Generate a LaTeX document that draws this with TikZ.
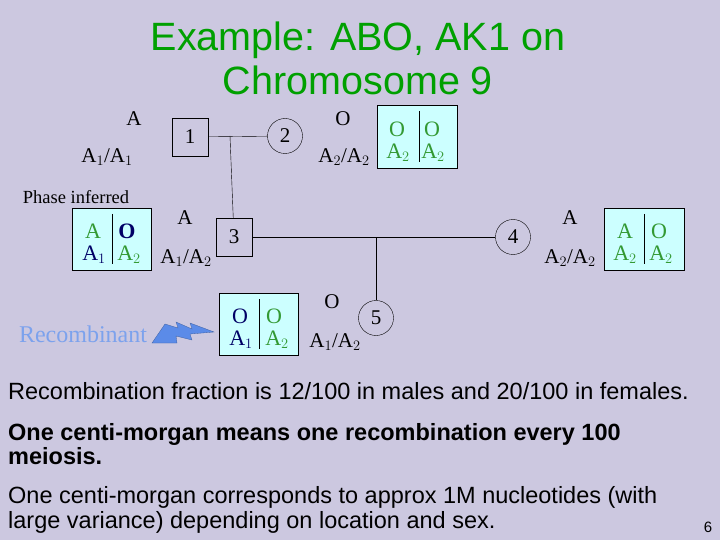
\documentclass[tikz,border=0pt]{standalone}
\usepackage{fontspec}
\setmainfont{Liberation Serif}
\newfontfamily\arial{Liberation Sans}
\definecolor{bg}{HTML}{CCC8E0}
\definecolor{cyanbox}{HTML}{CCFFFF}
\definecolor{gtext}{HTML}{339933}
\definecolor{navy}{HTML}{000066}
\definecolor{ttl}{HTML}{00A000}
\definecolor{bolt}{HTML}{5B8BE8}
\begin{document}
\begin{tikzpicture}[x=1pt,y=-1pt,
  lbl/.style={font=\fontsize{21}{21}\selectfont},
  sq/.style={draw,minimum width=36pt,minimum height=38pt,font=\fontsize{21}{21}\selectfont,inner sep=0},
  ci/.style={draw,circle,minimum size=35pt,font=\fontsize{21}{21}\selectfont,inner sep=0},
  gbox/.style={draw,fill=cyanbox},
  bt/.style={font=\fontsize{22}{22}\selectfont,inner sep=0},
  txt/.style={font=\arial\fontsize{23.5}{24}\selectfont,anchor=west,inner sep=0}]
\fill[bg] (0,0) rectangle (720,540);
\useasboundingbox (0,0) rectangle (720,540);
\node[font=\arial\fontsize{39.5}{44}\selectfont,text=ttl,align=center] (title) at (358,58) {Example: ABO, AK1 on\\Chromosome 9};
% pedigree
\node[sq] (n1) at (190,137) {1};
\node[ci] (n2) at (285,136) {2};
\node[sq] (n3) at (234,237) {3};
\node[ci] (n4) at (513,237) {4};
\node[ci] (n5) at (376,318) {5};
\coordinate (m12) at (230,136);
\coordinate (m34) at (376,237);
\draw (n1) -- (n2);
\draw (m12) -- (n3);
\draw (n3) -- (n4);
\draw (m34) -- (n5);
% labels
\node[lbl] (l1a) at (134,119) {A};
\node[lbl] (l1b) at (107,157) {A$_1$/A$_1$};
\node[lbl] (l2a) at (343,119) {O};
\node[lbl] (l2b) at (344,157) {A$_2$/A$_2$};
\node[lbl] (l3a) at (185,218) {A};
\node[lbl] (l3b) at (186,258) {A$_1$/A$_2$};
\node[lbl] (l4a) at (570,218) {A};
\node[lbl] (l4b) at (570,258) {A$_2$/A$_2$};
\node[lbl] (l5a) at (332,302) {O};
\node[lbl] (l5b) at (335,342) {A$_1$/A$_2$};
\node[font=\fontsize{18.5}{18}\selectfont] (pi) at (76,197) {Phase inferred};
\node[font=\fontsize{24}{24}\selectfont,text=bolt!80!white] (rec) at (83,334) {Recombinant};
\fill[bolt,draw=bolt!70!black,line width=0.3pt] (152,343) -- (165,324) -- (178,328) -- (176,322) -- (192,329) -- (190,323) -- (214,332) -- (190,334) -- (192,340) -- (176,336) -- (177,343) -- cycle;
% boxes
\draw[gbox] (377,105) rectangle (457,168); \draw (419,111) -- (419,162);
\node[bt,text=gtext] at (397,129) {O}; \node[bt,text=gtext] at (432,129) {O};
\node[bt,text=gtext] at (398,153) {A$_2$}; \node[bt,text=gtext] at (433,153) {A$_2$};
\draw[gbox] (72,208) rectangle (151,270); \draw (112,214) -- (112,264);
\node[bt,text=gtext] at (93,231) {A}; \node[bt,text=navy,font=\bfseries\fontsize{22}{22}\selectfont] at (127,231) {O};
\node[bt,text=navy] at (94,255) {A$_1$}; \node[bt,text=gtext] at (129,255) {A$_2$};
\draw[gbox] (604,208) rectangle (684,270); \draw (644,214) -- (644,264);
\node[bt,text=gtext] at (625,231) {A}; \node[bt,text=gtext] at (659,231) {O};
\node[bt,text=gtext] at (625,255) {A$_2$}; \node[bt,text=gtext] at (661,255) {A$_2$};
\draw[gbox] (219,293) rectangle (298,355); \draw (259,299) -- (259,349);
\node[bt,text=navy] at (240,316) {O}; \node[bt,text=gtext] at (274,316) {O};
\node[bt,text=navy] at (241,340) {A$_1$}; \node[bt,text=gtext] at (277,340) {A$_2$};
% text
\node[txt] (t1) at (8,391) {Recombination fraction is 12/100 in males and 20/100 in females.};
\node[txt,font=\arial\bfseries\fontsize{23.5}{24}\selectfont,align=left] (t2) at (8,444) {One centi-morgan means one recombination every 100\\meiosis.};
\node[txt,align=left,font=\arial\fontsize{23.5}{25}\selectfont] (t3) at (8,510) {One centi-morgan corresponds to approx 1M nucleotides (with\\large variance) depending on location and sex.};
\node[font=\arial\fontsize{15}{15}\selectfont] (pg) at (708,527) {6};
\end{tikzpicture}
\end{document}
